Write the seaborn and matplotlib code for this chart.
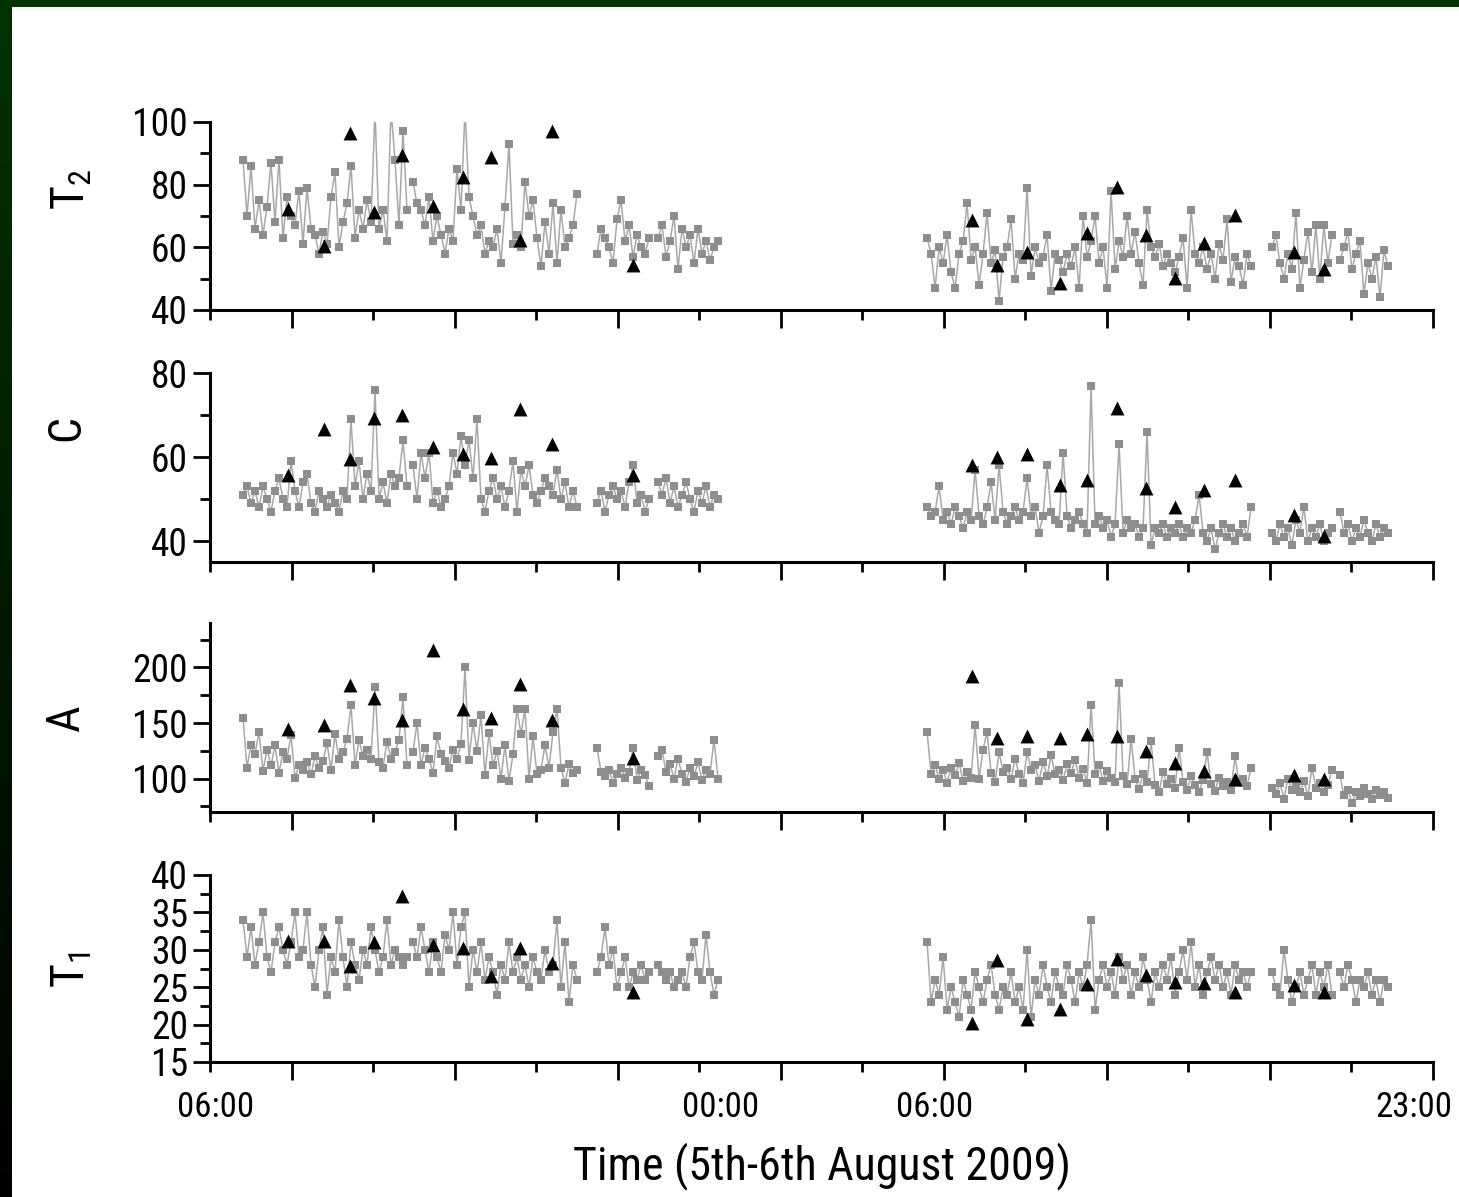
import numpy as np
import pandas as pd
import matplotlib
matplotlib.use("Agg")
import matplotlib.pyplot as plt
import seaborn as sns
from matplotlib import font_manager, transforms
from matplotlib.ticker import FixedLocator, NullFormatter

# ---------------- data ----------------
# recording segments (hours after 06:00 on 5th August)
SEG_START = [1.106, 6.805, 12.973, 15.02, 24.04, 35.60, 37.88]
SEG_END = [6.604, 12.303, 14.72, 17.03, 34.90, 37.61, 39.49]

T2_S1 = [88, 70, 86, 66, 75, 64, 73, 87, 68, 88, 63, 76, 70, 67, 78, 61, 79, 66, 64, 58, 65, 61,
         76, 84, 60, 68, 74, 86, 63, 72, 66, 75, 68, 104, 66, 72, 62, 104, 88, 67, 97, 72]
T2_S2 = [81, 74, 72, 67, 76, 62, 70, 64, 58, 66, 62, 85, 72, 104, 76, 70, 64, 67, 58, 62, 60, 66,
         55, 73, 93, 61, 64, 60, 81, 70, 75, 63, 54, 68, 58, 74, 55, 72, 60, 63, 67, 77]
T2_S3 = [58, 66, 63, 60, 55, 69, 75, 62, 67, 57, 64, 60, 58, 63]
T2_S4 = [63, 67, 57, 62, 70, 53, 66, 60, 64, 55, 66, 58, 62, 56, 60, 62]
T2_S5 = [63, 58, 47, 60, 55, 64, 52, 47, 58, 62, 74, 56, 60, 48, 58, 71, 55, 59, 43, 57, 60, 69,
         50, 58, 56, 79, 51, 60, 55, 57, 64, 46, 58, 56, 52, 58, 54, 60, 47, 70, 57, 62, 70, 55,
         60, 47, 78, 53, 62, 57, 70, 58, 65, 55, 48, 72, 60, 57, 61, 54, 58, 55, 52, 57, 63, 47,
         72, 58, 55, 60, 53, 58, 50, 61, 56, 69, 49, 57, 54, 48, 58, 54]
T2_S6 = [60, 64, 55, 50, 58, 53, 71, 47, 56, 65, 52, 67, 50, 67, 55, 64]
T2_S7 = [56, 60, 65, 53, 58, 62, 45, 55, 50, 57, 44, 59, 54]

C_S1 = [51, 53, 49, 52, 48, 53, 50, 47, 52, 55, 50, 48, 59, 52, 48, 54, 56, 49, 47, 52, 50, 48,
        51, 49, 47, 52, 50, 69, 53, 59, 50, 56, 52, 76, 50, 54, 49, 56, 53, 55, 64, 53]
C_S2 = [58, 50, 61, 55, 61, 49, 52, 48, 50, 53, 61, 56, 65, 58, 64, 55, 69, 50, 47, 52, 55, 50,
        53, 48, 52, 59, 47, 57, 53, 58, 51, 49, 52, 55, 53, 51, 57, 50, 54, 48, 52, 48]
C_S3 = [49, 52, 47, 51, 53, 50, 52, 48, 54, 58, 49, 51, 47, 50]
C_S4 = [54, 51, 55, 49, 53, 48, 51, 54, 50, 47, 52, 49, 53, 48, 51, 50]
C_S5 = [48, 46, 47, 53, 45, 47, 44, 48, 46, 43, 47, 45, 57, 46, 44, 48, 54, 45, 58, 47, 44, 46,
        48, 45, 47, 55, 46, 48, 42, 46, 58, 47, 45, 44, 61, 46, 43, 45, 47, 44, 42, 77, 44, 46,
        43, 45, 41, 44, 63, 42, 45, 43, 44, 41, 43, 66, 39, 43, 42, 44, 41, 43, 42, 44, 41, 43,
        42, 45, 51, 42, 40, 43, 38, 42, 44, 41, 43, 40, 42, 44, 41, 48]
C_S6 = [42, 40, 44, 41, 43, 39, 45, 42, 48, 40, 43, 41, 44, 40, 42, 43]
C_S7 = [47, 42, 44, 40, 43, 41, 45, 42, 40, 44, 41, 43, 42]

A_S1 = [155, 110, 130, 122, 142, 107, 126, 112, 130, 105, 124, 118, 139, 101, 112, 108, 115, 104,
        120, 110, 116, 132, 108, 140, 118, 124, 136, 166, 112, 135, 120, 126, 118, 182, 115, 110,
        133, 118, 124, 135, 173, 112]
A_S2 = [124, 150, 112, 128, 118, 105, 138, 122, 116, 110, 126, 118, 131, 200, 117, 150, 125, 157,
        103, 141, 112, 125, 100, 130, 98, 122, 163, 140, 163, 100, 138, 104, 108, 130, 110, 142,
        163, 110, 96, 113, 105, 108]
A_S3 = [128, 106, 102, 108, 96, 104, 110, 101, 106, 128, 99, 108, 103, 93]
A_S4 = [120, 126, 106, 113, 100, 118, 104, 97, 110, 102, 115, 99, 108, 104, 135, 100]
A_S5 = [142, 104, 112, 100, 108, 96, 110, 103, 114, 98, 106, 101, 148, 100, 126, 142, 105, 97,
        124, 106, 110, 100, 118, 104, 96, 124, 108, 112, 98, 115, 102, 121, 104, 108, 99, 113,
        105, 117, 101, 109, 96, 166, 104, 112, 98, 107, 101, 97, 186, 102, 95, 136, 100, 91,
        104, 97, 134, 94, 88, 106, 95, 100, 92, 128, 97, 90, 102, 94, 88, 99, 124, 95, 89, 101,
        93, 97, 90, 120, 96, 100, 93, 110]
A_S6 = [92, 86, 96, 82, 100, 90, 95, 88, 98, 84, 110, 92, 96, 88, 94, 108]
A_S7 = [103, 85, 90, 78, 88, 84, 92, 86, 82, 90, 85, 88, 83]

T1_S1 = [34, 29, 33, 28, 31, 35, 29, 27, 31, 33, 30, 28, 31, 35, 29, 30, 35, 28, 25, 30, 33, 24,
         29, 27, 34, 29, 25, 31, 28, 26, 30, 28, 33, 30, 27, 29, 34, 28, 30, 29, 28, 29]
T1_S2 = [31, 29, 33, 30, 27, 31, 29, 27, 32, 30, 35, 28, 33, 35, 25, 30, 27, 31, 26, 29, 27, 24,
         28, 26, 31, 27, 29, 26, 28, 25, 29, 27, 26, 30, 27, 28, 34, 25, 31, 23, 28, 26]
T1_S3 = [27, 29, 33, 28, 30, 25, 27, 29, 25, 27, 26, 28, 26, 27]
T1_S4 = [28, 27, 26, 27, 25, 26, 27, 25, 29, 31, 27, 26, 32, 27, 24, 26]
T1_S5 = [31, 23, 26, 24, 29, 22, 25, 23, 21, 26, 24, 22, 27, 25, 23, 26, 28, 24, 22, 25, 24, 27,
         23, 25, 22, 30, 21, 26, 24, 28, 25, 23, 27, 25, 24, 28, 26, 23, 27, 25, 28, 34, 22, 26,
         28, 25, 27, 24, 29, 26, 28, 24, 27, 25, 29, 26, 23, 27, 25, 28, 26, 29, 24, 27, 30, 26,
         31, 25, 28, 24, 27, 29, 26, 28, 25, 27, 24, 28, 26, 27, 25, 27]
T1_S6 = [27, 25, 24, 30, 26, 23, 25, 27, 24, 26, 28, 24, 27, 25, 28, 24]
T1_S7 = [27, 25, 28, 26, 23, 26, 25, 27, 24, 26, 23, 26, 25]

# hourly samples (triangles)
TRI_HOURS = [2.61, 3.82, 4.69, 5.50, 6.44, 7.48, 8.48, 9.42, 10.39, 11.47, 14.18, 25.54, 26.38,
             27.39, 28.50, 29.40, 30.41, 31.38, 32.35, 33.32, 34.36, 36.34, 37.35]
T2_TRI = [72.2, 60.4, 96.6, 71.4, 89.5, 73.2, 82.3, 88.8, 62.3, 97.2, 54.4, 68.7, 54.4, 58.6,
          48.7, 64.7, 79.2, 64.0, 50.3, 61.3, 70.3, 58.4, 53.1]
C_TRI = [55.8, 66.6, 59.6, 69.3, 70.1, 62.4, 60.8, 59.7, 71.4, 63.2, 55.6, 58.2, 60.0, 60.8,
         53.4, 54.6, 71.7, 52.6, 48.0, 52.2, 54.6, 46.2, 41.2]
A_TRI = [144.5, 148.5, 183.9, 172.7, 153.0, 216.0, 162.7, 154.5, 184.8, 153.0, 118.7, 192.4,
         136.4, 138.7, 136.9, 140.0, 138.7, 124.8, 114.2, 106.6, 100.0, 103.0, 99.4]
T1_TRI = [31.2, 31.2, 27.8, 31.1, 37.2, 30.6, 30.3, 26.5, 30.3, 28.3, 24.3, 20.2, 28.6, 20.7,
          22.1, 25.4, 28.8, 26.6, 25.7, 25.6, 24.3, 25.3, 24.3]

PANEL_NAMES = ["T2", "C", "A", "T1"]
PANEL_LABELS = [r"$\mathregular{T_2}$", "C", "A", r"$\mathregular{T_1}$"]
X_TICK_TEXT = ["06:00", "00:00", "06:00", "23:00"]
X_TICK_HOURS = [0.2, 17.13, 24.3, 40.36]
X_LABEL = "Time (5th-6th August 2009)"

series = {
    "T2": [T2_S1, T2_S2, T2_S3, T2_S4, T2_S5, T2_S6, T2_S7],
    "C": [C_S1, C_S2, C_S3, C_S4, C_S5, C_S6, C_S7],
    "A": [A_S1, A_S2, A_S3, A_S4, A_S5, A_S6, A_S7],
    "T1": [T1_S1, T1_S2, T1_S3, T1_S4, T1_S5, T1_S6, T1_S7],
}
tri = {"T2": T2_TRI, "C": C_TRI, "A": A_TRI, "T1": T1_TRI}

rows = []
for name, segs in series.items():
    for k, vals in enumerate(segs):
        ts = np.linspace(SEG_START[k], SEG_END[k], len(vals))
        for t, v in zip(ts, vals):
            rows.append((name, k, t, v))
df = pd.DataFrame(rows, columns=["panel", "seg", "t", "v"])

# ---------------- style ----------------
sns.set_style("ticks")

# look for a condensed sans family (reference uses a narrow Arial-like face)
FAM, STRETCH, NARROW = "Liberation Sans", "normal", False
preferred = ["Liberation Sans Narrow", "Arial Narrow", "Roboto Condensed", "Open Sans Condensed",
             "Noto Sans Condensed", "DejaVu Sans Condensed", "Noto Sans Display Condensed"]
ttf_names = {f.name for f in font_manager.fontManager.ttflist}
for cand in preferred:
    if cand in ttf_names:
        FAM, NARROW = cand, True
        break
if not NARROW:
    for cand in ["Roboto", "Open Sans", "Noto Sans", "DejaVu Sans", "Lato", "Inter"]:
        hits = [f for f in font_manager.fontManager.ttflist
                if f.name == cand and str(f.stretch) in ("condensed", "semi-condensed", "extra-condensed")
                and f.style == "normal"]
        if hits:
            FAM, STRETCH, NARROW = cand, hits[0].stretch, True
            break

plt.rcParams["font.family"] = [FAM, "DejaVu Sans"]
plt.rcParams["font.stretch"] = STRETCH
plt.rcParams["mathtext.fontset"] = "custom"
plt.rcParams["mathtext.rm"] = FAM
plt.rcParams["mathtext.it"] = FAM + ":italic"
plt.rcParams["text.color"] = "black"
plt.rcParams["xtick.color"] = "black"
plt.rcParams["ytick.color"] = "black"
plt.rcParams["axes.edgecolor"] = "black"

# sizes: keep widths close to the narrow reference face if none is available
S_TICK = 27 if NARROW else 22
S_XTICK = 25 if NARROW else 22
S_YLAB = 33 if NARROW else 30
S_XLAB = 33 if NARROW else 29

W, H = 1459, 1197
fig = plt.figure(figsize=(W / 100, H / 100), dpi=100)
fig.patch.set_facecolor("white")

# dark green frame (top and left)
img = np.ones((H, W, 3))
grad = np.linspace(0.2, 0.0, H)
img[:, :12, 0] = 0
img[:, :12, 1] = grad[:, None]
img[:, :12, 2] = 0
img[:7, :, 0] = 0
img[:7, :, 1] = 0.2
img[:7, :, 2] = 0
bg = fig.add_axes([0, 0, 1, 1], zorder=-10)
bg.imshow(img, aspect="auto", interpolation="nearest")
bg.axis("off")

# axes geometry (pixels: left, right, top, bottom)
boxes = [(210, 1433, 122, 310), (210, 1433, 373, 562), (210, 1433, 623, 812), (210, 1433, 875, 1062)]
ylims = [(40, 100), (35, 80), (70, 240), (15, 40)]
ymaj = [[40, 60, 80, 100], [40, 60, 80], [100, 150, 200], [15, 20, 25, 30, 35, 40]]
ymin = [[50, 70, 90], [50, 70], [75, 125, 175, 225], [17.5, 22.5, 27.5, 32.5, 37.5]]
label_pos = [(72, 190), (66, 428), (66, 718), (72, 970)]

SQ = "#8e8e8e"
LN = "#a8a8a8"
xmaj = np.arange(1, 16, 2) * 41 / 15
xmin = np.arange(0, 15, 2) * 41 / 15

axes = []
for i, name in enumerate(PANEL_NAMES):
    l, r, t, b = boxes[i]
    ax = fig.add_axes([l / W, 1 - b / H, (r - l) / W, (b - t) / H])
    sub = df[df["panel"] == name]
    sns.lineplot(data=sub, x="t", y="v", units="seg", estimator=None, sort=False,
                 color=LN, linewidth=1.1, marker="s", markersize=6.0,
                 markerfacecolor=SQ, markeredgecolor=SQ, markeredgewidth=0,
                 legend=False, ax=ax)
    sns.scatterplot(x=TRI_HOURS, y=tri[name], marker="^", color="black", s=100,
                    linewidth=0, ax=ax, zorder=5, legend=False)
    ax.set_xlim(0, 41)
    ax.set_ylim(*ylims[i])
    sns.despine(ax=ax)
    for sp in ["left", "bottom"]:
        ax.spines[sp].set_linewidth(2.2)
    ax.xaxis.set_major_locator(FixedLocator(xmaj))
    ax.xaxis.set_minor_locator(FixedLocator(xmin))
    ax.xaxis.set_major_formatter(NullFormatter())
    ax.yaxis.set_major_locator(FixedLocator(ymaj[i]))
    ax.yaxis.set_minor_locator(FixedLocator(ymin[i]))
    ax.tick_params(axis="x", which="major", direction="out", length=13, width=2)
    ax.tick_params(axis="x", which="minor", direction="out", length=7, width=2)
    ax.tick_params(axis="y", which="major", direction="out", length=12, width=2,
                   labelsize=S_TICK, pad=4)
    ax.tick_params(axis="y", which="minor", direction="out", length=7, width=2)
    ax.set_xlabel("")
    ax.set_ylabel("")
    lx, ly = label_pos[i]
    fig.text(lx / W, 1 - ly / H, PANEL_LABELS[i], rotation=90, fontsize=S_YLAB,
             ha="center", va="center")
    axes.append(ax)

bottom_ax = axes[-1]
trans = transforms.blended_transform_factory(bottom_ax.transData, fig.transFigure)
for pos, lab in zip(X_TICK_HOURS, X_TICK_TEXT):
    bottom_ax.text(pos, 1 - 1091 / H, lab, transform=trans, ha="center", va="top",
                   fontsize=S_XTICK)

fig.text(822 / W, 1 - 1166 / H, X_LABEL, fontsize=S_XLAB, ha="center", va="center")

fig.savefig("out.png", dpi=100)
